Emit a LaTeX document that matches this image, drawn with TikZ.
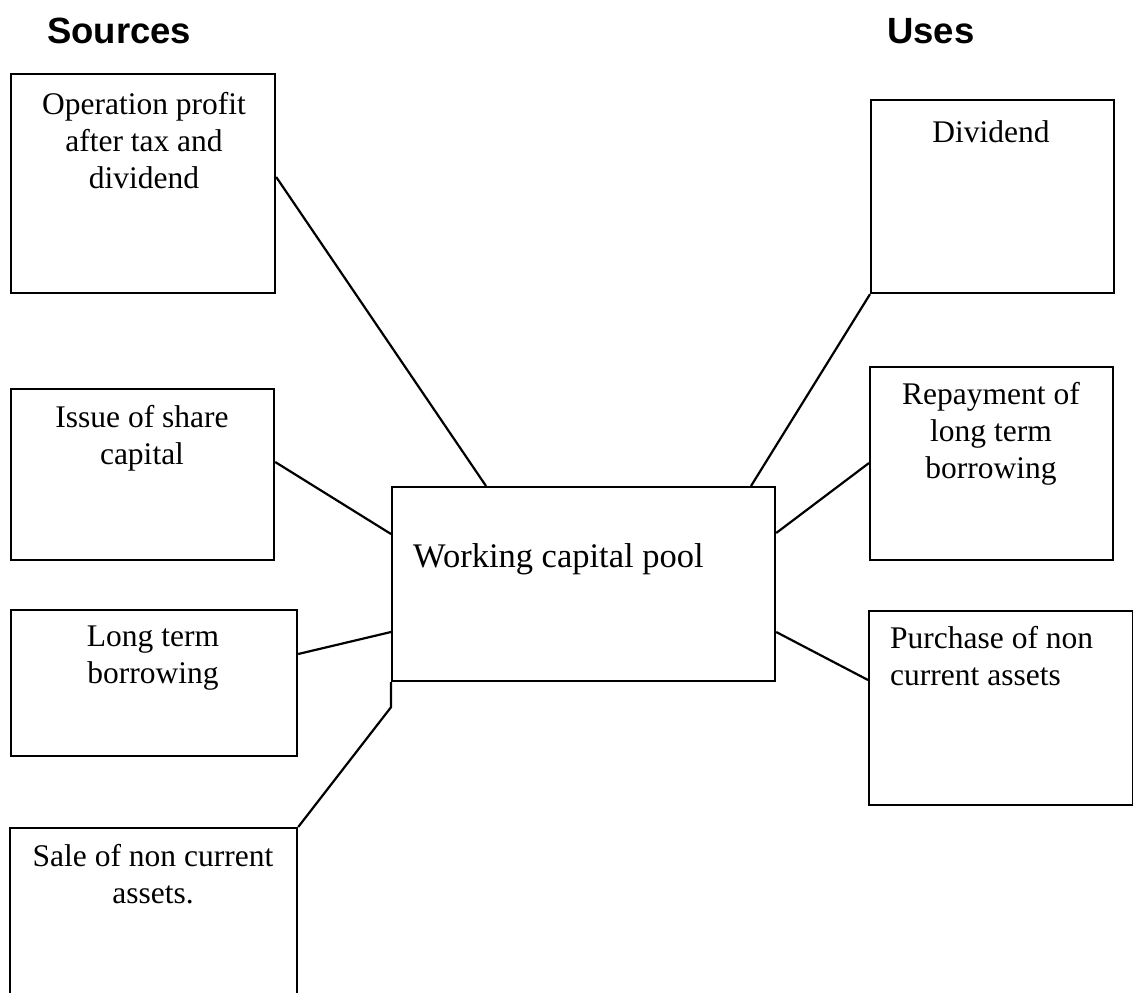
\documentclass[tikz,border=0pt]{standalone}
\usepackage{fontspec}
\setmainfont{Liberation Serif}
\newfontfamily\titlefont{Liberation Sans}
\usetikzlibrary{calc}
\tikzset{
  box/.style={draw, line width=2.2pt, rectangle, anchor=north west, inner sep=0pt},
  txt/.style={font=\fontsize{31.5}{37}\selectfont, align=center, anchor=north, inner sep=0pt, execute at begin node=\strut},
  ttl/.style={font=\titlefont\bfseries\fontsize{36.5}{44}\selectfont, anchor=base west, inner sep=0pt},
  link/.style={line width=2.2pt}
}
\begin{document}
\begin{tikzpicture}[x=1pt,y=-1pt]
\useasboundingbox (0,0) rectangle (1133,993);
\fill[white] (0,0) rectangle (1133,993);
% titles
\node[ttl] (src) at (47,43) {Sources};
\node[ttl] (use) at (887,43) {Uses};
% source boxes
\node[box, minimum width=264pt, minimum height=219pt] (b1) at (10,73) {};
\node[box, minimum width=263pt, minimum height=171pt] (b2) at (10,388) {};
\node[box, minimum width=286pt, minimum height=146pt] (b3) at (10,609) {};
\node[box, minimum width=287pt, minimum height=190pt] (b4) at (9,827) {};
% pool
\node[box, minimum width=383pt, minimum height=194pt] (pool) at (391,486) {};
% use boxes
\node[box, minimum width=243pt, minimum height=193pt] (u1) at (870,99) {};
\node[box, minimum width=243pt, minimum height=193pt] (u2) at (869,366) {};
\node[box, minimum width=264pt, minimum height=194pt] (u3) at (868,610) {};
% texts
\node[txt] (t1) at (144,92) {Operation profit\\after tax and\\dividend};
\node[txt] (t2) at (142,405) {Issue of share\\capital};
\node[txt] (t3) at (153,626) {Long term\\borrowing};
\node[txt] (t4) at (153,844) {Sale of non current\\assets.};
\node[txt] (t5) at (991,116) {Dividend};
\node[txt] (t6) at (991,382) {Repayment of\\long term\\borrowing};
\node[txt, align=left, anchor=north west] (t7) at (890,626) {Purchase of non\\current assets};
\node[font=\fontsize{34.5}{40}\selectfont, anchor=base west, inner sep=0pt] (tp) at (413,567) {Working capital pool};
% connectors
\draw[link] ($(b1.north east)+(0,104)$) -- ($(pool.north west)+(95,0)$);
\draw[link] ($(b2.north east)+(0,74)$) -- ($(pool.north west)+(0,48)$);
\draw[link] ($(b3.north east)+(0,45)$) -- ($(pool.north west)+(0,146)$);
\draw[link] (pool.south west) -- ++(0,25) -- (b4.north east);
\draw[link] (u1.south west) -- ($(pool.north west)+(360,0)$);
\draw[link] ($(u2.north west)+(0,97)$) -- ($(pool.north east)+(0,47)$);
\draw[link] ($(u3.north west)+(0,70)$) -- ($(pool.north east)+(0,146)$);
\end{tikzpicture}
\end{document}
